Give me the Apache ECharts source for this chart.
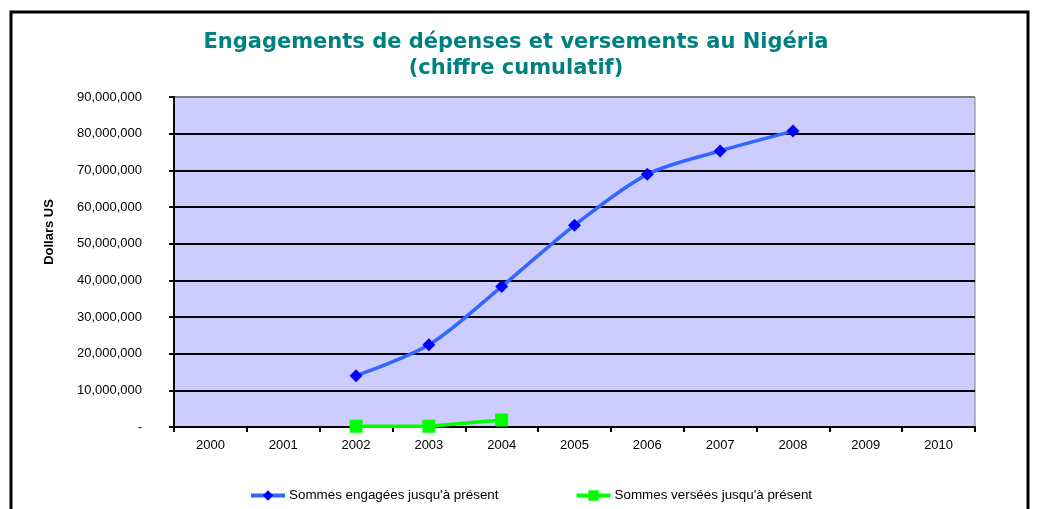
<!DOCTYPE html>
<html>
<head>
<meta charset="utf-8">
<script src="https://cdn.jsdelivr.net/npm/echarts@6/dist/echarts.min.js"></script>
<style>
  html, body { margin: 0; padding: 0; background: #fff; }
  #chart { width: 1038px; height: 509px; }
</style>
</head>
<body>
<div id="chart"></div>
<script>
// Chart data
const years = ['2000', '2001', '2002', '2003', '2004', '2005', '2006', '2007', '2008', '2009', '2010'];
const engaged = [null, null, 14000000, 22400000, 38300000, 55000000, 68900000, 75300000, 80700000, null, null];
const paid = [null, null, 200000, 200000, 1900000, null, null, null, null, null, null];
const seriesNames = ['Sommes engagées jusqu\'à présent', 'Sommes versées jusqu\'à présent'];

const chart = echarts.init(document.getElementById('chart'));

// top split line is grey (plot border), the rest black
const splitColors = ['#000', '#000', '#000', '#000', '#000', '#000', '#000', '#000', '#000', '#808080'];

const option = {
  animation: false,
  backgroundColor: '#fff',
  graphic: [
    {
      type: 'rect',
      shape: { x: 11, y: 12, width: 1017, height: 520 },
      style: { fill: 'none', stroke: '#000', lineWidth: 3 },
      silent: true
    }
  ],
  title: {
    text: 'Engagements de dépenses et versements au Nigéria\n(chiffre cumulatif)',
    left: 511,
    textAlign: 'center',
    top: 25,
    textStyle: {
      color: '#008080',
      fontFamily: 'DejaVu Sans',
      fontWeight: 'bold',
      fontSize: 21,
      lineHeight: 26
    }
  },
  legend: {
    left: 244,
    top: 484,
    itemWidth: 34,
    itemHeight: 13,
    itemGap: 76,
    lineStyle: { width: 4 },
    textStyle: { fontFamily: 'Liberation Sans', fontSize: 13.4, color: '#000', padding: [0, 0, 0, -1] },
    data: seriesNames
  },
  grid: {
    left: 174,
    right: 63,
    top: 97,
    bottom: 82,
    show: true,
    backgroundColor: '#CCCCFF',
    borderColor: '#808080',
    borderWidth: 1
  },
  xAxis: {
    type: 'category',
    data: years,
    boundaryGap: true,
    axisLine: { lineStyle: { color: '#000', width: 2 } },
    axisTick: { show: true, length: 5, lineStyle: { color: '#000', width: 2 } },
    axisLabel: { color: '#000', fontFamily: 'Liberation Sans', fontSize: 13, margin: 12 },
    splitLine: { show: false }
  },
  yAxis: {
    type: 'value',
    min: 0,
    max: 90000000,
    interval: 10000000,
    name: 'Dollars US',
    nameLocation: 'middle',
    nameGap: 118,
    nameTextStyle: {
      color: '#000',
      fontFamily: 'Liberation Sans',
      fontWeight: 'bold',
      fontSize: 13,
      padding: [0, 0, 0, 60]
    },
    axisLine: { show: true, lineStyle: { color: '#000', width: 2 } },
    axisTick: { show: true, length: 5, lineStyle: { color: '#000', width: 2 } },
    axisLabel: {
      color: '#000',
      fontFamily: 'Liberation Sans',
      fontSize: 13,
      margin: 32,
      formatter: v => v === 0 ? '-' : v.toLocaleString('en-US')
    },
    splitLine: { show: true, lineStyle: { color: splitColors, width: 2 } }
  },
  series: [
    {
      name: seriesNames[0],
      type: 'line',
      data: engaged,
      smooth: 0.3,
      symbol: 'diamond',
      symbolSize: 13,
      itemStyle: { color: '#0000FF' },
      lineStyle: { color: '#3366FF', width: 3.5 },
      z: 3
    },
    {
      name: seriesNames[1],
      type: 'line',
      data: paid,
      symbol: 'rect',
      symbolSize: 13,
      itemStyle: { color: '#00FF00' },
      lineStyle: { color: '#00FF00', width: 3.5 },
      z: 3
    }
  ]
};

chart.setOption(option);
</script>
</body>
</html>
